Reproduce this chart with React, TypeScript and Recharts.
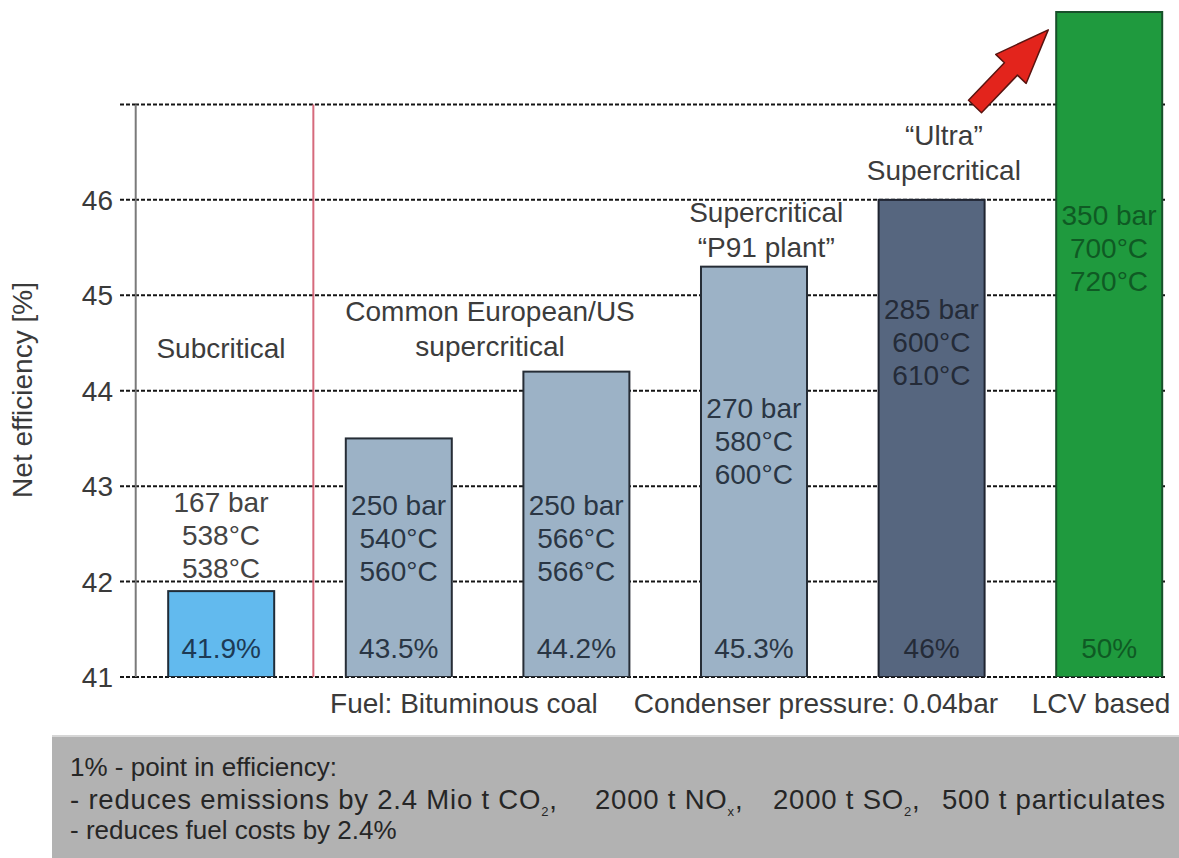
import React from "react";
import {
  BarChart,
  Bar,
  XAxis,
  YAxis,
  CartesianGrid,
  Cell,
  LabelList,
  ReferenceLine,
  ReferenceDot,
} from "recharts";

// values
const EFFICIENCY = [41.9, 43.5, 44.2, 45.3, 46, 50];
const PCT_LABELS = ["41.9%", "43.5%", "44.2%", "45.3%", "46%", "50%"];
const PRESSURE = ["167 bar", "250 bar", "250 bar", "270 bar", "285 bar", "350 bar"];
const TEMP_MAIN = ["538°C", "540°C", "566°C", "580°C", "600°C", "700°C"];
const TEMP_REHEAT = ["538°C", "560°C", "566°C", "600°C", "610°C", "720°C"];
const GROUP_TITLES = [
  ["Subcritical"],
  ["Common European/US", "supercritical"],
  ["Supercritical", "“P91 plant”"],
  ["“Ultra”", "Supercritical"],
];
const FOOT_NOTES = ["Fuel: Bituminous coal", "Condenser pressure: 0.04bar", "LCV based"];
const Y_TICKS = [41, 42, 43, 44, 45, 46, 47];

// styling / layout
const FONT = "'Liberation Sans', Arial, Helvetica, sans-serif";
const FILLS = ["#62baee", "#9cb2c6", "#9cb2c6", "#9cb2c6", "#56667f", "#1f9a3e"];
const STROKES = ["#1f2c38", "#262d36", "#262d36", "#262d36", "#1f2430", "#17502a"];
const SPEC_COLORS = ["#444444", "#2a3644", "#2a3644", "#2a3644", "#242b38", "#0f5a24"];
const PCT_COLORS = ["#1d3a55", "#2a3644", "#2a3644", "#2a3644", "#242b38", "#0f5a24"];
// where the first spec line of each bar sits (y-axis units)
const SPEC_AT = [42.83, 42.8, 42.8, 43.82, 44.85, 45.84];
// group title anchor: [x index, y value of first line]
const TITLE_AT: [number, number][] = [
  [0, 44.45],
  [1.515, 44.83],
  [3.07, 45.87],
  [4.07, 46.68],
];
const NOTE_TICKS = [1.368, 3.35, 4.955];
const X_DOMAIN: [number, number] = [-0.4842, 5.3153];
const PLOT_TOP = 9;

const data = EFFICIENCY.map((v, i) => ({ x: i, eff: v, pct: PCT_LABELS[i] }));

function BarShape(p: any) {
  const top = Math.max(p.y, PLOT_TOP + 3);
  const h = p.y + p.height - top;
  return (
    <rect
      x={p.x}
      y={top}
      width={p.width}
      height={h}
      fill={p.fill}
      stroke={STROKES[p.index] ?? "#262d36"}
      strokeWidth={2}
    />
  );
}

function PctLabel(p: any) {
  const { x, y, width, height, value, index } = p;
  return (
    <text
      x={x + width / 2}
      y={y + height - 29}
      dy="0.35em"
      textAnchor="middle"
      fontSize={28}
      fontFamily={FONT}
      fill={PCT_COLORS[index]}
    >
      {value}
    </text>
  );
}

function multiLine(lines: string[], color: string, step: number) {
  return (p: any) => (
    <text textAnchor="middle" fontSize={28} fontFamily={FONT} fill={color}>
      {lines.map((l, k) => (
        <tspan key={k} x={p.cx} y={p.cy + k * step} dy="0.35em">
          {l}
        </tspan>
      ))}
    </text>
  );
}

const sub = (t: string) => (
  <span style={{ fontSize: 13, position: "relative", top: 7, lineHeight: 0 }}>{t}</span>
);

export default function App() {
  return (
    <div
      style={{
        position: "absolute",
        left: 0,
        top: 0,
        width: 1179,
        height: 858,
        background: "#ffffff",
        fontFamily: FONT,
        overflow: "hidden",
      }}
    >
      <BarChart
        width={1179}
        height={735}
        data={data}
        margin={{ top: PLOT_TOP, right: 14, bottom: 0, left: 0 }}
      >
        <CartesianGrid
          vertical={false}
          horizontalValues={Y_TICKS}
          stroke="#151515"
          strokeWidth={2}
          strokeDasharray="4 2"
        />
        <XAxis
          dataKey="x"
          type="number"
          domain={X_DOMAIN}
          allowDataOverflow
          ticks={NOTE_TICKS}
          interval={0}
          tickFormatter={(_v: number, i: number) => FOOT_NOTES[i]}
          tick={{ fontSize: 28, fill: "#3a3a3a", fontFamily: FONT }}
          tickLine={false}
          axisLine={false}
          tickSize={0}
          tickMargin={16}
          height={58}
        />
        <YAxis
          type="number"
          domain={[41, 48]}
          allowDataOverflow
          ticks={Y_TICKS}
          interval={0}
          tickFormatter={(v: number) => (v === 47 ? "" : String(v))}
          tick={{ fontSize: 28, fill: "#3a3a3a", fontFamily: FONT }}
          tickLine={{ stroke: "#151515", strokeWidth: 2, strokeDasharray: "4 2" }}
          tickSize={15}
          tickMargin={7}
          axisLine={false}
          width={135}
          label={{
            content: () => (
              <text
                x={22}
                y={390}
                transform="rotate(-90 22 390)"
                textAnchor="middle"
                dy="0.35em"
                fontSize={28}
                fontFamily={FONT}
                fill="#3a3a3a"
              >
                Net efficiency [%]
              </text>
            ),
          }}
        />
        <ReferenceLine
          segment={[
            { x: X_DOMAIN[0] + 0.004, y: 41 },
            { x: X_DOMAIN[0] + 0.004, y: 47 },
          ]}
          stroke="#7a7a7a"
          strokeWidth={2}
        />
        <ReferenceLine
          segment={[
            { x: 0.52, y: 41 },
            { x: 0.52, y: 47 },
          ]}
          stroke="#d66a7c"
          strokeWidth={2}
        />
        <Bar dataKey="eff" barSize={106} shape={BarShape} isAnimationActive={false}>
          {data.map((_, i) => (
            <Cell key={i} fill={FILLS[i]} />
          ))}
          <LabelList dataKey="pct" content={PctLabel} />
        </Bar>
        {data.map((d, i) => (
          <ReferenceDot
            key={`spec${i}`}
            x={d.x}
            y={SPEC_AT[i]}
            r={0}
            shape={multiLine([PRESSURE[i], TEMP_MAIN[i], TEMP_REHEAT[i]], SPEC_COLORS[i], 33)}
          />
        ))}
        {GROUP_TITLES.map((lines, i) => (
          <ReferenceDot
            key={`title${i}`}
            x={TITLE_AT[i][0]}
            y={TITLE_AT[i][1]}
            r={0}
            shape={multiLine(lines, "#3c3c3c", 35)}
          />
        ))}
      </BarChart>

      <svg
        width={1179}
        height={735}
        style={{ position: "absolute", left: 0, top: 0, pointerEvents: "none" }}
      >
        <polygon
          points="0,-9 52,-9 52,-21 106,0 52,21 52,9 0,9"
          transform="translate(975,106.5) rotate(-46.3)"
          fill="#e3241c"
          stroke="#5a1410"
          strokeWidth={1.5}
          strokeLinejoin="round"
        />
      </svg>

      <div
        style={{
          position: "absolute",
          left: 52,
          top: 735,
          width: 1127,
          height: 123,
          background: "#b2b2b2",
          borderTop: "2px solid #d6d6d6",
          boxSizing: "border-box",
          padding: "15px 0 0 18px",
          color: "#262626",
          fontSize: 26,
          lineHeight: "31.5px",
          whiteSpace: "nowrap",
        }}
      >
        <div>1% - point in efficiency:</div>
        <div
          style={{ position: "relative", height: 31.5, fontSize: 27.5, letterSpacing: 0.8 }}
        >
          <span style={{ position: "absolute", left: 0 }}>
            - reduces emissions by 2.4 Mio t CO{sub("2")},
          </span>
          <span style={{ position: "absolute", left: 525 }}>2000 t NO{sub("x")},</span>
          <span style={{ position: "absolute", left: 703 }}>2000 t SO{sub("2")},</span>
          <span style={{ position: "absolute", left: 872 }}>500 t particulates</span>
        </div>
        <div>- reduces fuel costs by 2.4%</div>
      </div>
    </div>
  );
}
